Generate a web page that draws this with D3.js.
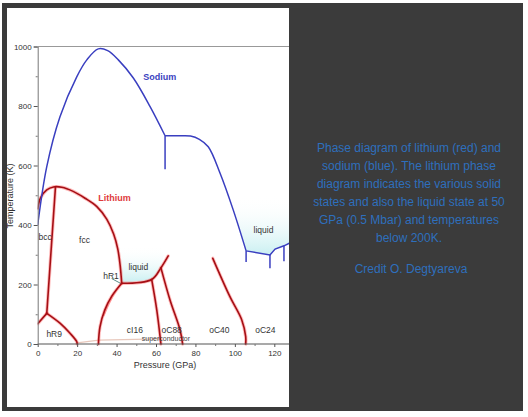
<!DOCTYPE html>
<html><head><meta charset="utf-8">
<script src="https://cdn.jsdelivr.net/npm/d3@7"></script>
<style>html,body{margin:0;padding:0;background:#fff;}svg{display:block;}</style>
</head><body>
<script>
// ---- data (pressure GPa, temperature K) ----
const xTicks = [0, 20, 40, 60, 80, 100, 120];
const xMinor = [10, 30, 50, 70, 90, 110];
const yTicks = [0, 200, 400, 600, 800, 1000];
const yMinor = [100, 300, 500, 700, 900];

const sodiumMeltA = [[0,400],[4.6,596],[11.3,764],[19.8,898],[24.9,955],[30.7,992],[35.5,986],[40.9,955],[48.5,894],[57,798],[64.6,700]];
const sodiumMeltB = [[64.6,700],[72,700],[77.5,699],[82,688],[86.5,663],[92.5,574],[99.2,450],[105.7,313]];
const sodiumMeltC = [[105.7,313],[117.8,299],[120.4,319],[124.9,330],[128,340]];
const sodiumBound1 = [[64.6,700],[64.6,587]];
const sodiumBound2 = [[105.7,313],[105.7,276]];
const sodiumBound3 = [[117.8,299],[117.8,255]];
const sodiumBound4 = [[124.9,330],[124.9,278]];
const sodiumLiquid = [[97.5,500],[99.2,450],[105.7,313],[117.8,299],[120.4,319],[124.9,330],[128,340],[128,500]];

const lithiumMelt = [[0,455],[1.5,492],[4.6,518],[8,528],[12.2,527],[18,513],[24,490],[30,462],[35,420],[38.5,370],[40.6,320],[41.8,265],[42.6,204]];
const lithiumLiquidBase = [[42.6,204],[57.8,217],[62.5,256],[66.2,296]];
const lithiumBccFcc = [[4.6,103],[9,527]];
const hR9Left = [[0,68],[4.6,103]];
const hR9Right = [[4.6,103],[11.3,70],[16.4,36],[19.8,8],[20,0]];
const hR1Bound = [[30.8,0],[31.6,58],[34,114],[37.5,160],[42.6,204]];
const hR1Bound2 = [[33.5,95],[36.5,140],[39.5,176],[42.6,204]];
const cI16oC88 = [[57.8,217],[60.4,114],[62.5,0]];
const oC88oC40 = [[62.5,256],[67.1,148],[72.2,47],[73.5,0]];
const oC40oC24 = [[88.8,288],[97.5,159],[103.5,81],[105.5,25],[105.5,0]];
const lithiumLiquid = [[39.6,345],[40.6,320],[41.8,265],[42.6,204],[57.8,217],[62.5,256],[64,300],[62,345]];
const superconductor = [[20,4],[31,13],[62,17]];

const phaseLabels = [
  {t:"bcc", p:0.4, k:350},
  {t:"fcc", p:21, k:340},
  {t:"liquid", p:46, k:250},
  {t:"hR1", p:33.2, k:218},
  {t:"hR9", p:4.4, k:22},
  {t:"cI16", p:45.2, k:36},
  {t:"oC88", p:62.8, k:36},
  {t:"oC40", p:87, k:36},
  {t:"oC24", p:110.3, k:36},
  {t:"liquid", p:109.5, k:374}
];
const captionLines = ["Phase diagram of lithium (red) and","sodium (blue). The lithium phase","diagram indicates the various solid","states and also the liquid state at 50","GPa (0.5 Mbar) and temperatures","below 200K."];
const creditLine = "Credit O. Degtyareva";

// ---- drawing ----
const W = 528, H = 417;
const svg = d3.select("body").append("svg").attr("width", W).attr("height", H);
svg.append("rect").attr("x",2).attr("y",3).attr("width",521).attr("height",408).attr("fill","#3b3b3b");
svg.append("rect").attr("x",7).attr("y",8).attr("width",282).attr("height",399).attr("fill","#ffffff");

const x = d3.scaleLinear().domain([0,120]).range([37.7,274.3]);
const y = d3.scaleLinear().domain([0,1000]).range([344,46.5]);

const defs = svg.append("defs");
defs.append("clipPath").attr("id","plotclip").append("rect").attr("x",37.7).attr("y",40).attr("width",289-37.7).attr("height",310);
function grad(id, k0, k1){
  const g = defs.append("linearGradient").attr("id",id).attr("gradientUnits","userSpaceOnUse")
    .attr("x1",0).attr("x2",0).attr("y1",y(k0)).attr("y2",y(k1));
  g.append("stop").attr("offset",0).attr("stop-color","#c4eef0");
  g.append("stop").attr("offset",1).attr("stop-color","#ffffff").attr("stop-opacity",0);
}
grad("gLi", 200, 330);
grad("gNa", 290, 500);

const plot = svg.append("g").attr("clip-path","url(#plotclip)");
const lineC = d3.line().x(d=>x(d[0])).y(d=>y(d[1])).curve(d3.curveCatmullRom.alpha(0.5));
const lineS = d3.line().x(d=>x(d[0])).y(d=>y(d[1]));

plot.append("path").attr("d", lineS(lithiumLiquid)+"Z").attr("fill","url(#gLi)");
plot.append("path").attr("d", lineS(sodiumLiquid)+"Z").attr("fill","url(#gNa)");

const lf = "Liberation Sans, Arial";
// axes
const gx = svg.append("g").attr("transform","translate(0,344)");
gx.append("line").attr("x1",37.7).attr("x2",289).attr("stroke","#555").attr("stroke-width",1.2);
gx.call(d3.axisBottom(x).tickValues(xTicks).tickSize(3).tickPadding(3).tickFormat(d3.format("d")))
  .call(g=>g.select(".domain").remove())
  .call(g=>g.selectAll("text").attr("font-family",lf).attr("font-size",8).attr("fill","#333"))
  .call(g=>g.selectAll("line").attr("stroke","#555"));
svg.append("g").attr("transform","translate(0,344)")
  .call(d3.axisBottom(x).tickValues(xMinor).tickSize(2).tickFormat(""))
  .call(g=>g.select(".domain").remove()).call(g=>g.selectAll("line").attr("stroke","#777"));

const gy = svg.append("g").attr("transform","translate(37.7,0)");
gy.call(d3.axisLeft(y).tickValues(yTicks).tickSize(4).tickPadding(2).tickFormat(d3.format("d")))
  .call(g=>g.select(".domain").attr("stroke","#777").attr("stroke-width",1))
  .call(g=>g.selectAll("text").attr("font-family",lf).attr("font-size",8).attr("fill","#333"))
  .call(g=>g.selectAll("line").attr("stroke","#555"));
svg.append("g").attr("transform","translate(37.7,0)")
  .call(d3.axisLeft(y).tickValues(yMinor).tickSize(2).tickFormat(""))
  .call(g=>g.select(".domain").remove()).call(g=>g.selectAll("line").attr("stroke","#777"));
svg.append("line").attr("x1",37.7).attr("x2",289).attr("y1",46.5).attr("y2",46.5).attr("stroke","#999").attr("stroke-width",1);

svg.append("text").attr("x",165).attr("y",368).attr("text-anchor","middle")
  .attr("font-family",lf).attr("font-size",9).attr("fill","#333").text("Pressure (GPa)");
svg.append("text").attr("transform","translate(13,196) rotate(-90)").attr("text-anchor","middle")
  .attr("font-family",lf).attr("font-size",9).attr("fill","#333").text("Temperature (K)");

// superconductor line
plot.append("path").attr("d", lineS(superconductor)).attr("fill","none").attr("stroke","#e8c8bc").attr("stroke-width",1.3);

// lithium lines
const liLines = [lithiumMelt, lithiumLiquidBase, lithiumBccFcc, hR9Left, hR9Right, hR1Bound, cI16oC88, oC88oC40, oC40oC24];
liLines.forEach(d=>{
  plot.append("path").attr("d", lineC(d)).attr("fill","none").attr("stroke","#ff5a5a").attr("stroke-opacity",0.4).attr("stroke-width",3.4).attr("stroke-linecap","round");
});
plot.append("path").attr("d", lineC(hR1Bound2)).attr("fill","none").attr("stroke","#ff6a6a").attr("stroke-opacity",0.6).attr("stroke-width",1.6);
liLines.forEach(d=>{
  plot.append("path").attr("d", lineC(d)).attr("fill","none").attr("stroke","#a50f15").attr("stroke-width",1.6).attr("stroke-linecap","round");
});

// sodium lines
[sodiumMeltA, sodiumMeltB].forEach(d=>{
  plot.append("path").attr("d", lineC(d)).attr("fill","none").attr("stroke","#3a3fc0").attr("stroke-width",1.5);
});
[sodiumMeltC, sodiumBound1, sodiumBound2, sodiumBound3, sodiumBound4].forEach(d=>{
  plot.append("path").attr("d", lineS(d)).attr("fill","none").attr("stroke","#3a3fc0").attr("stroke-width",1.5);
});

// hR1 leader
svg.append("line").attr("x1",x(37.5)).attr("y1",y(220)).attr("x2",x(42)).attr("y2",y(204)).attr("stroke","#2f6f6a").attr("stroke-width",0.8);

// labels
phaseLabels.forEach(l=>{
  svg.append("text").attr("x",x(l.p)).attr("y",y(l.k)).attr("font-family",lf).attr("font-size",8.5).attr("fill","#333").text(l.t);
});
svg.append("text").attr("x",x(52.8)).attr("y",y(10)).attr("font-family",lf).attr("font-size",7).attr("fill","#444").text("superconductor");
svg.append("text").attr("x",x(53.5)).attr("y",y(888)).attr("font-family",lf).attr("font-size",9).attr("font-weight","bold").attr("fill","#3a3fc0").text("Sodium");
svg.append("text").attr("x",x(30.7)).attr("y",y(482)).attr("font-family",lf).attr("font-size",9).attr("font-weight","bold").attr("fill","#e03a3a").text("Lithium");

// caption
captionLines.forEach((t,i)=>{
  svg.append("text").attr("x",409).attr("y",152+i*18).attr("text-anchor","middle")
    .attr("font-family",lf).attr("font-size",12).attr("fill","#2e6fbd").text(t);
});
svg.append("text").attr("x",411).attr("y",273).attr("text-anchor","middle")
  .attr("font-family",lf).attr("font-size",12).attr("fill","#2e6fbd").text(creditLine);
</script>
</body></html>
